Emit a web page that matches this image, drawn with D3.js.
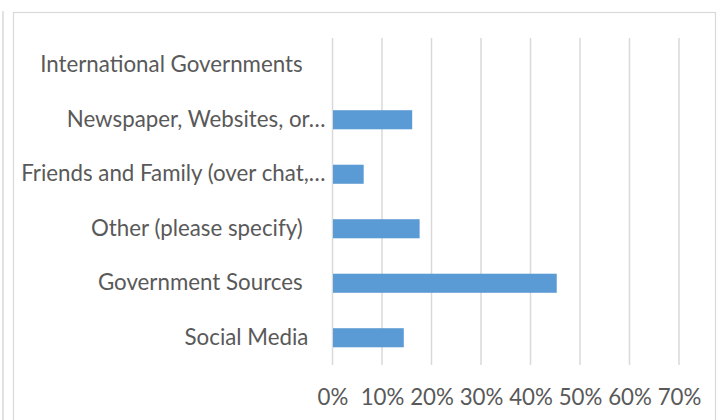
<!DOCTYPE html>
<html>
<head>
<meta charset="utf-8">
<script src="https://cdn.jsdelivr.net/npm/d3@7/dist/d3.min.js"></script>
<style>
  html, body { margin: 0; padding: 0; background: #fff; }
  svg text { white-space: pre; }
</style>
</head>
<body>
<svg id="chart" width="718" height="420"></svg>
<script>
// Information sources, share of respondents
const categories = [
  "International Governments    ",
  "Newspaper, Websites, or\u2026",
  "Friends and Family (over chat,\u2026",
  "Other (please specify)    ",
  "Government Sources    ",
  "Social Media   "
];
const shares = [0, 0.161, 0.063, 0.176, 0.453, 0.144];
const tickValues = [0, 0.1, 0.2, 0.3, 0.4, 0.5, 0.6, 0.7];

const svg = d3.select("#chart");
const font = "Lato, 'Open Sans', sans-serif";
const fontSize = 22.3;
const textColor = "#595959";

// outer frames
svg.append("line")
  .attr("x1", 3).attr("x2", 3).attr("y1", 11).attr("y2", 420)
  .attr("stroke", "#d9d9d9").attr("stroke-width", 1.5);
svg.append("rect")
  .attr("x", 13.5).attr("y", 12.5).attr("width", 702).attr("height", 420)
  .attr("fill", "#fff").attr("stroke", "#d9d9d9").attr("stroke-width", 1.2);

const x = d3.scaleLinear().domain([0, 0.7]).range([332.5, 679]);
const y = d3.scaleBand().domain(categories).range([38, 365])
  .paddingInner(0.65).paddingOuter(0.325);

// vertical gridlines
svg.append("g").selectAll("line").data(tickValues).join("line")
  .attr("x1", d => x(d)).attr("x2", d => x(d))
  .attr("y1", 38).attr("y2", 365)
  .attr("stroke", "#d9d9d9").attr("stroke-width", 1.5);

// bars
svg.append("g").selectAll("rect").data(categories).join("rect")
  .attr("x", x(0) + 0.5)
  .attr("y", d => y(d))
  .attr("width", (d, i) => Math.max(0, x(shares[i]) - x(0) - 0.5))
  .attr("height", y.bandwidth())
  .attr("fill", "#5b9bd5");

// category labels
const yAxis = d3.axisLeft(y).tickSize(0).tickPadding(7);
const gy = svg.append("g").attr("transform", `translate(${x(0)},0)`).call(yAxis);
gy.select(".domain").remove();
gy.selectAll("text")
  .attr("font-family", font).attr("font-size", fontSize)
  .attr("fill", textColor);

// value axis labels
const xAxis = d3.axisBottom(x).tickValues(tickValues)
  .tickFormat(d3.format(".0%")).tickSize(0).tickPadding(0);
const gx = svg.append("g").attr("transform", "translate(0,389)").call(xAxis);
gx.select(".domain").remove();
gx.selectAll("text")
  .attr("font-family", font).attr("font-size", fontSize)
  .attr("fill", textColor);
</script>
</body>
</html>
